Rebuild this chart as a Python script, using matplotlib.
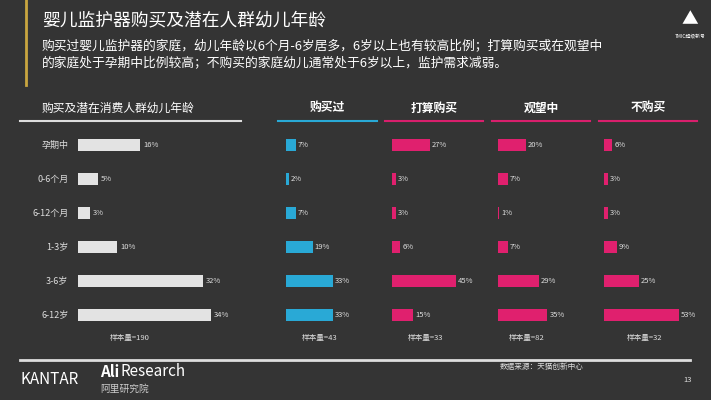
import matplotlib.pyplot as plt

plt.rcParams["font.family"] = "Noto Sans CJK SC"

BG = "#343434"
ages = ["孕期中", "0-6个月", "6-12个月", "1-3岁", "3-6岁", "6-12岁"]
total = [16, 5, 3, 10, 32, 34]
bought = [7, 2, 7, 19, 33, 33]
plan = [27, 3, 3, 6, 45, 15]
watching = [20, 7, 1, 7, 29, 35]
notbuy = [6, 3, 3, 9, 25, 53]
groups = ["购买过", "打算购买", "观望中", "不购买"]
samples = ["样本量=190", "样本量=43", "样本量=33", "样本量=82", "样本量=32"]

W, H = 711, 400
fig = plt.figure(figsize=(W / 100, H / 100), dpi=100, facecolor=BG)
bg = fig.add_axes([0, 0, 1, 1])
bg.set_xlim(0, W)
bg.set_ylim(H, 0)
bg.axis("off")

bg.plot([26, 26], [0, 85], color="#c9a640", lw=2)
bg.text(42, 20, "婴儿监护器购买及潜在人群幼儿年龄", color="white", fontsize=12.8, va="center")
bg.text(42, 46, "购买过婴儿监护器的家庭，幼儿年龄以6个月-6岁居多，6岁以上也有较高比例；打算购买或在观望中",
        color="white", fontsize=9.2, va="center")
bg.text(42, 63, "的家庭处于孕期中比例较高；不购买的家庭幼儿通常处于6岁以上，监护需求减弱。",
        color="white", fontsize=9.2, va="center")
bg.text(690, 20, "▲", color="white", fontsize=12, ha="center", va="center")
bg.text(690, 36, "TMIC超级新号", color="white", fontsize=3.5, ha="center", va="center")

# headers
bg.text(42, 108, "购买及潜在消费人群幼儿年龄", color="white", fontsize=8.5, va="center")
bg.plot([20, 241], [121, 121], color="#dddddd", lw=1.5)
heads = [(278, 377, "#29a9d6"), (385, 483, "#d81f6c"), (492, 590, "#d81f6c"), (599, 697, "#d81f6c")]
for (x0, x1, c), g in zip(heads, groups):
    bg.text((x0 + x1) / 2, 108, g, color="white", fontsize=8.5, ha="center", va="center", weight="bold")
    bg.plot([x0, x1], [121, 121], color=c, lw=1.5)

rows_top, rows_bot = 128, 332
def panel(x0, x1, vals, color, xmax, show_labels=False):
    ax = fig.add_axes([x0 / W, 1 - rows_bot / H, (x1 - x0) / W, (rows_bot - rows_top) / H])
    ax.set_facecolor(BG)
    ax.barh(range(len(vals)), vals, height=0.36, color=color)
    for i, v in enumerate(vals):
        ax.text(v + xmax * 0.02, i, f"{v}%", color="#dddddd", fontsize=5.5, va="center")
    ax.set_xlim(0, xmax)
    ax.set_ylim(len(vals) - 0.5, -0.5)
    ax.axis("off")
    if show_labels:
        for i, a in enumerate(ages):
            ax.text(-xmax * 0.06, i, a, color="#dddddd", fontsize=6.5, va="center", ha="right")
    return ax

panel(78, 240, total, "#e3e3e3", 41.5, show_labels=True)
panel(286, 382, bought, "#29a9d6", 68)
panel(392, 488, plan, "#e0206e", 68)
panel(498, 594, watching, "#e0206e", 68)
panel(604, 700, notbuy, "#e0206e", 68)

for x, s in zip([130, 320, 425, 527, 645], samples):
    bg.text(x, 338, s, color="#dddddd", fontsize=5.5, ha="center", va="center")

bg.plot([20, 690], [360, 360], color="#dddddd", lw=2)
bg.text(20, 380, "KANTAR", color="white", fontsize=11, va="center")
bg.text(100, 372, "Ali", color="white", fontsize=11, va="center", weight="bold")
bg.text(120, 372, "Research", color="white", fontsize=11, va="center")
bg.text(100, 389, "阿里研究院", color="#cccccc", fontsize=7, va="center")
bg.text(500, 367, "数据来源：天猫创新中心", color="#dddddd", fontsize=5.5, va="center")
bg.text(683, 380, "13", color="#dddddd", fontsize=5.5, va="center")

fig.savefig("out.png", dpi=100, facecolor=BG)
